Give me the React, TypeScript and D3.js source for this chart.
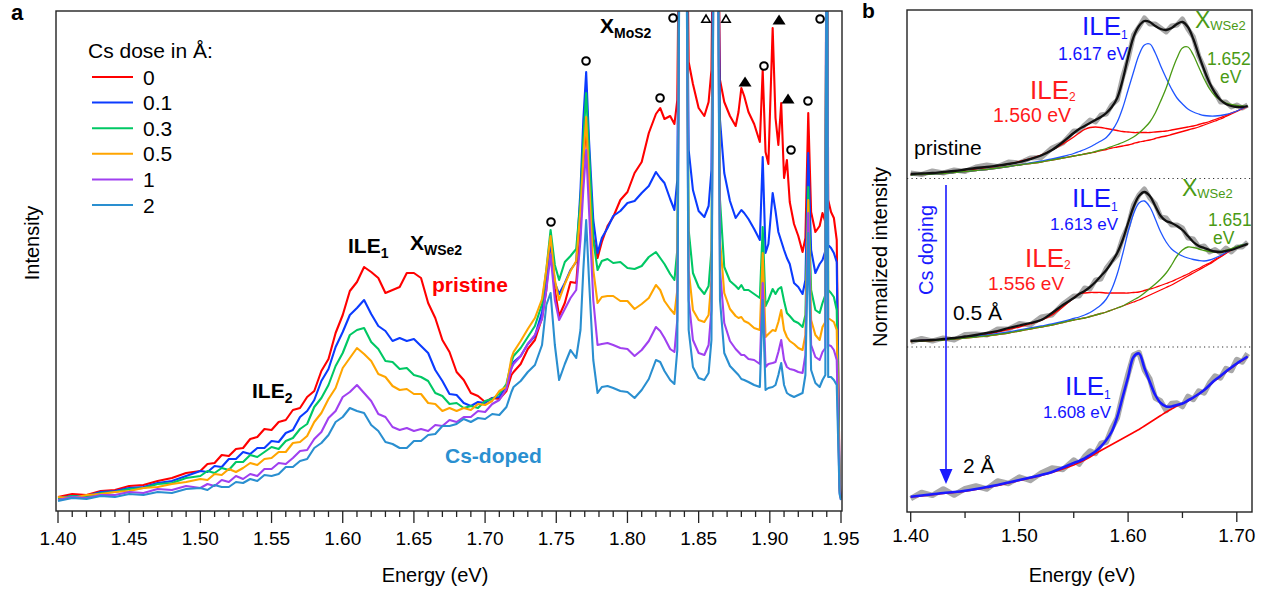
import React from "react";
import * as d3 from "d3";

// ---------------- Panel a data ----------------
const energyA = [
  1.40, 1.41, 1.42, 1.43, 1.44, 1.45, 1.46, 1.47, 1.48, 1.49,
  1.500, 1.505, 1.510, 1.515, 1.520, 1.525, 1.530, 1.535, 1.540, 1.545, 1.550, 1.555, 1.560, 1.565, 1.570,
  1.575, 1.580, 1.585, 1.590, 1.595, 1.600, 1.605, 1.610, 1.615, 1.620, 1.625, 1.630, 1.635, 1.640, 1.645,
  1.650, 1.655, 1.660, 1.665, 1.670, 1.675, 1.680, 1.685, 1.690, 1.695, 1.700, 1.705, 1.710, 1.715,
  1.7185, 1.720, 1.725, 1.730, 1.735, 1.740, 1.743, 1.746, 1.749, 1.752, 1.756, 1.760, 1.764, 1.767, 1.769,
  1.771, 1.773, 1.776, 1.779, 1.782, 1.786, 1.790, 1.795, 1.800, 1.805, 1.810, 1.815, 1.820, 1.823, 1.826,
  1.830, 1.833, 1.835, 1.837, 1.839, 1.841, 1.843, 1.846, 1.850, 1.854, 1.857, 1.859, 1.861, 1.863, 1.865,
  1.868, 1.872, 1.876, 1.878, 1.880, 1.882, 1.885, 1.889, 1.893, 1.895, 1.897, 1.899, 1.902, 1.904, 1.906,
  1.908, 1.910, 1.912, 1.914, 1.917, 1.920, 1.923, 1.925, 1.927, 1.929, 1.932, 1.935, 1.937, 1.939, 1.940,
  1.941, 1.943, 1.945, 1.947, 1.949, 1.950,
];

const doseLabels = ["0", "0.1", "0.3", "0.5", "1", "2"];
const doseColors = ["#ff0000", "#0b3bff", "#00c864", "#ffa500", "#a040f0", "#2a8fd0"];

const dose0 = [
  14, 17, 16, 20, 21, 25, 26, 30, 33, 38,
  40, 47, 48, 56, 55, 62, 63, 72, 74, 82, 81, 89, 91, 101, 103, 114, 120, 140, 152, 178, 196, 220, 229, 244, 239, 233, 218, 221, 224, 238, 238, 233, 208, 193, 171, 159, 139, 131, 118, 115, 109, 113, 112, 120,
  136, 139, 147, 162, 171, 193, 221, 273, 221, 195, 208, 229, 228, 281, 346, 386, 336, 273, 253, 269, 285, 294, 311, 319, 338, 349, 378, 397, 403, 392, 395, 387, 411, 700, 700, 700, 449, 427, 403, 395, 409, 441, 700, 700, 431, 409, 395, 385, 399, 423, 415, 399, 387, 369, 441, 359, 347, 483, 393, 366, 408, 333, 351, 309, 287, 275, 259, 273, 398, 299, 279, 285, 298, 289, 700, 311, 299, 293, 271, 31, 14,
];
const dose01 = [
  13, 15, 15, 19, 20, 23, 24, 28, 30, 35,
  40, 39, 45, 44, 52, 52, 59, 57, 63, 63, 70, 69, 78, 81, 94, 100, 111, 130, 142, 164, 179, 196, 203, 211, 197, 185, 180, 170, 173, 170, 172, 165, 158, 141, 130, 117, 116, 108, 105, 109, 108, 113, 114, 125,
  143, 149, 155, 167, 175, 199, 231, 271, 228, 217, 228, 241, 249, 321, 391, 439, 371, 291, 258, 273, 283, 295, 300, 308, 310, 318, 325, 339, 333, 328, 312, 301, 331, 700, 700, 700, 361, 321, 300, 294, 305, 341, 700, 700, 391, 338, 310, 293, 297, 301, 298, 292, 282, 271, 354, 258, 267, 318, 300, 279, 270, 261, 253, 247, 228, 224, 217, 231, 358, 261, 238, 247, 251, 260, 700, 266, 263, 258, 249, 26, 13,
];
const dose03 = [
  12, 15, 14, 18, 19, 22, 23, 27, 28, 33,
  35, 40, 38, 43, 41, 49, 49, 56, 54, 59, 64, 62, 70, 73, 82, 87, 104, 113, 126, 145, 158, 176, 181, 183, 169, 162, 150, 149, 142, 143, 136, 134, 130, 118, 115, 107, 108, 103, 105, 103, 110, 112, 117, 127,
  149, 155, 163, 174, 185, 207, 241, 281, 246, 231, 249, 255, 262, 311, 371, 418, 361, 271, 241, 250, 252, 248, 249, 243, 242, 245, 254, 259, 253, 247, 237, 231, 261, 700, 700, 700, 281, 238, 224, 217, 225, 261, 700, 700, 311, 244, 230, 225, 222, 226, 221, 221, 217, 213, 284, 205, 211, 222, 217, 222, 224, 210, 198, 195, 190, 188, 184, 196, 324, 221, 201, 198, 208, 216, 700, 221, 218, 214, 201, 23, 13,
];
const dose05 = [
  14, 13, 16, 17, 19, 20, 23, 24, 27, 29,
  32, 31, 37, 36, 42, 39, 43, 48, 46, 52, 53, 59, 59, 68, 69, 75, 89, 98, 112, 123, 143, 153, 163, 157, 150, 137, 134, 125, 121, 122, 117, 117, 108, 107, 100, 103, 100, 103, 101, 107, 106, 110, 120, 124,
  153, 159, 170, 182, 193, 212, 241, 275, 231, 211, 227, 240, 250, 301, 351, 394, 331, 241, 208, 214, 215, 215, 210, 210, 202, 207, 213, 226, 221, 210, 202, 197, 221, 700, 700, 700, 241, 201, 191, 189, 196, 231, 700, 700, 271, 218, 202, 195, 193, 194, 190, 188, 183, 181, 258, 174, 177, 181, 180, 189, 201, 181, 174, 170, 167, 163, 161, 176, 311, 191, 176, 171, 184, 189, 700, 193, 191, 189, 181, 21, 12,
];
const dose1 = [
  11, 14, 13, 16, 16, 19, 18, 22, 21, 25,
  23, 27, 25, 31, 29, 35, 32, 37, 35, 42, 42, 48, 47, 53, 60, 61, 72, 79, 93, 100, 114, 119, 126, 118, 110, 97, 94, 84, 81, 83, 80, 82, 80, 86, 85, 91, 89, 94, 94, 100, 99, 107, 111, 122,
  143, 147, 155, 167, 176, 192, 221, 256, 211, 191, 202, 213, 221, 271, 321, 361, 301, 211, 166, 167, 168, 166, 163, 162, 155, 161, 170, 184, 180, 173, 162, 159, 191, 700, 700, 700, 211, 171, 158, 156, 166, 201, 700, 700, 241, 188, 170, 162, 159, 156, 156, 152, 151, 147, 228, 144, 147, 148, 149, 159, 171, 151, 144, 142, 141, 139, 138, 156, 298, 166, 154, 151, 159, 163, 700, 166, 165, 161, 151, 19, 11,
];
const dose2 = [
  10, 13, 12, 15, 14, 17, 16, 19, 18, 22,
  23, 21, 26, 24, 24, 29, 28, 32, 30, 36, 35, 37, 44, 44, 50, 52, 63, 68, 76, 89, 94, 103, 100, 98, 86, 80, 69, 67, 63, 63, 70, 70, 76, 77, 85, 85, 87, 92, 89, 93, 92, 97, 96, 104,
  119, 124, 130, 139, 146, 166, 206, 218, 166, 131, 147, 161, 153, 181, 241, 291, 231, 151, 118, 124, 125, 123, 120, 119, 113, 121, 132, 151, 149, 140, 131, 127, 161, 700, 700, 700, 181, 144, 133, 131, 138, 171, 700, 700, 211, 158, 145, 139, 136, 132, 131, 129, 126, 124, 211, 121, 123, 124, 126, 136, 148, 126, 118, 116, 114, 116, 118, 136, 278, 141, 128, 124, 131, 136, 700, 134, 134, 131, 126, 17, 11,
];
const seriesA = [dose0, dose01, dose03, dose05, dose1, dose2];

const xTicksMajorA = [1.40, 1.45, 1.50, 1.55, 1.60, 1.65, 1.70, 1.75, 1.80, 1.85, 1.90, 1.95];

// peak markers (energy, intensity, kind)
const markerEnergy = [1.7463, 1.7709, 1.8229, 1.8320, 1.8552, 1.8692, 1.8826, 1.8959, 1.9065, 1.9128, 1.9149, 1.9268, 1.9353];
const markerIntensity = [289, 450, 413, 493, 492, 492, 429, 445, 491, 412, 361, 410, 492];
const markerKind = ["circle", "circle", "circle", "circle", "openTri", "openTri", "tri", "circle", "tri", "tri", "circle", "circle", "circle"];

// ---------------- Panel b data ----------------
const energyB = [
  1.40, 1.41, 1.42, 1.43, 1.44, 1.45, 1.46, 1.47, 1.48, 1.49, 1.50, 1.51, 1.52, 1.53, 1.54, 1.55,
  1.555, 1.560, 1.565, 1.570, 1.575, 1.580, 1.585, 1.590, 1.595, 1.600, 1.605, 1.610, 1.615, 1.620, 1.625, 1.630,
  1.635, 1.640, 1.645, 1.650, 1.655, 1.660, 1.665, 1.670, 1.675, 1.680, 1.685, 1.690, 1.695, 1.700, 1.705, 1.710,
];
const xTicksMajorB = [1.40, 1.50, 1.60, 1.70];
const xTicksMinorB = [1.45, 1.55, 1.65];

// pristine
const pristineData = [5, 3.5, 7, 5, 8, 6.5, 11, 13, 11.5, 16, 15, 20, 20.5, 30, 35, 47, 47, 53, 58, 56, 63, 64, 73, 78, 101, 119, 143, 151, 160, 154, 154, 150, 146, 152, 153, 159, 149, 141, 122, 110, 93, 86, 76, 76, 71, 73, 70, 73];
const pristineFit = [4, 4.5, 5, 6, 7, 8.5, 10, 11, 12.5, 14, 16, 19, 22.5, 28, 36, 45, 49, 52, 55, 58, 61, 65, 71, 80, 98, 121, 141, 152, 157, 156, 152, 149, 148, 150, 154, 156, 151, 139, 123, 108, 95, 85, 78, 74, 72, 71, 71, 72];
const pristineBackground = [3, 3.5, 4, 4.5, 5.5, 6.5, 7.5, 8.5, 10, 11.5, 13, 14.5, 16, 18, 20, 22, 23, 24, 25, 26, 27.5, 28.5, 30, 31, 32, 33, 34.5, 36, 37, 38, 39.5, 41, 42, 43.5, 45, 46.5, 48, 49.5, 51, 53, 55, 57, 59, 61.5, 64, 66.5, 69, 71.5];
const pristineILE2 = [3.5, 4, 4.5, 5.5, 6.5, 7.5, 9, 10.5, 12, 14, 16.5, 19.5, 23, 28, 34, 41, 45, 48.5, 50.5, 51, 50.5, 49.5, 48.5, 47.5, 46.5, 46, 45.5, 45.5, 45.5, 45.5, 46, 46.5, 47, 48, 49, 50, 51, 52, 53.5, 55, 56.5, 58.5, 60.5, 62.5, 65, 67, 69.5, 71.5];
const pristineILE1 = [3, 3.5, 4, 4.5, 5.5, 6.5, 7.5, 8.5, 10, 11.5, 13, 15, 17, 19, 21.5, 24.5, 26.5, 28.5, 31, 34, 37, 40.5, 47, 56, 70, 88, 106, 123, 133, 134, 125, 112, 100, 89, 80, 74, 69, 66, 64, 62.5, 62, 62, 62.5, 63.5, 65, 67, 69.5, 71.5];
const pristineXWSe2 = [3, 3.5, 4, 4.5, 5.5, 6.5, 7.5, 8.5, 10, 11.5, 13, 14.5, 16, 18, 20, 22, 23, 24, 25, 26.5, 28, 29.5, 31.5, 33.5, 35.5, 38, 41, 45, 50, 56, 65, 77, 90, 106, 120, 130, 131, 123, 111, 99, 89, 82, 78, 75, 73.5, 72.5, 72, 71.5];

// 0.5 A
const halfData = [5, 8.5, 6, 9, 7, 12.5, 13, 12, 18, 18, 23.5, 22, 30, 32, 43, 51, 51, 59, 58, 67, 68, 79, 86, 92, 109, 121, 142, 152, 158, 149, 143, 130, 129, 122, 122, 119, 109, 108, 100, 101, 95, 97.5, 94, 99, 95, 100, 100, 105];
const halfFit = [6, 6.5, 7, 8, 9, 10.5, 12, 14, 16, 19, 21.5, 24, 27, 34, 42, 49, 53, 56, 60, 65, 71, 77, 85, 94, 107, 124, 140, 151, 155, 151, 141, 131, 126, 124, 121, 117, 111, 105, 101, 99, 97, 95.5, 95, 96, 97, 99, 101, 103];
const halfBackground = [5.5, 6, 6.5, 7, 8, 9, 10, 11, 12.5, 14, 16, 18, 20, 22, 24.5, 27, 28, 29, 30.5, 32, 33.5, 35, 37, 39, 41, 43, 45, 47, 49.5, 52, 54.5, 57, 59.5, 62, 65, 68, 71, 74, 77, 80, 83, 86.5, 90, 93.5, 97, 100, 101.5, 103];
const halfILE2 = [6, 6.5, 7, 7.5, 8.5, 10, 11.5, 13, 15, 17.5, 20, 23, 26.5, 32, 40, 49, 53, 54, 54.5, 54.5, 54.5, 54, 54, 54, 54, 54, 54.5, 55, 56.5, 58, 59.5, 61.5, 63.5, 65.5, 68, 70.5, 73, 76, 78.5, 81.5, 84, 87.5, 90.5, 94, 97.5, 100, 101.5, 103];
const halfILE1 = [6, 6.5, 7, 7.5, 8.5, 9.5, 10.5, 12, 13.5, 15, 17, 19, 21, 23, 25.5, 28.5, 30, 32, 34.5, 38, 42, 48, 58, 73, 93, 115, 133, 144, 146, 140, 128, 115, 105, 98, 94, 91, 89, 87.5, 86.5, 86, 87, 89, 91.5, 94.5, 97.5, 100.5, 102, 103];
const halfXWSe2 = [5.5, 6, 6.5, 7, 8, 9, 10, 11, 12.5, 14, 16, 18, 20, 22, 24.5, 27, 28, 29, 30.5, 32, 33.5, 35, 37, 39, 41, 44, 47, 50, 54, 58.5, 63, 68, 74, 82, 91, 97, 100, 99.5, 98, 96.5, 95.5, 95, 95.5, 96.5, 98.5, 100.5, 102, 103];

// 2 A
const twoData = [13.3, 19.5, 16.7, 23, 17, 23.3, 26, 23, 31, 28.5, 35, 31.5, 39, 44, 42.5, 52, 48, 55.5, 61, 58.5, 68.5, 70, 83.5, 94, 117, 138, 157, 159.5, 142, 133, 114, 111, 101.5, 108.5, 109, 105.5, 115.5, 112.5, 121, 119, 129, 136, 134, 143.5, 141.5, 152.5, 150, 158.5];
const twoFit = [15.3, 16.5, 17.7, 19, 20, 21.3, 23, 25, 27, 29.5, 32, 34.5, 37, 40, 44.5, 49, 51, 53.5, 57, 60.5, 65.5, 72, 80.5, 95, 115, 135, 155, 158.5, 144, 130, 117, 109, 105.5, 105.5, 107, 108.5, 111.5, 114.5, 118, 122, 127, 132, 136, 140.5, 144.5, 148.5, 152, 155.5];
const twoBackground = [15, 16, 17.2, 18.5, 19.5, 20.8, 22.5, 24.5, 26.5, 29, 31.5, 34, 36.5, 39.5, 43, 47, 49.5, 52, 55, 58.5, 61.5, 64.5, 67.5, 70.5, 73.5, 76.5, 79.5, 82.5, 86, 89.5, 93, 96.5, 100, 103, 106, 108.5, 111, 114.2, 118, 122, 126.5, 131.5, 135.5, 140, 144, 148, 151.5, 155];

const FONT = "'Liberation Sans', Arial, Helvetica, sans-serif";
const GREEN_B = "#4a9a14";
const BLUE_B = "#1f55ff";
const BLUE_T = "#1414ff";
const RED_T = "#ff1a1a";

export default function App() {
  // Panel a scales
  const xA = d3.scaleLinear().domain([1.4, 1.95]).range([58, 841]);
  const yA = d3.scaleLinear().domain([0, 500]).range([511, 11]);
  const lineA = (vals: number[]) => {
    const n = Math.min(vals.length, energyA.length);
    const pts: [number, number][] = [];
    for (let i = 0; i < n; i++) pts.push([xA(energyA[i]), yA(vals[i])]);
    return d3.line()(pts) || "";
  };
  const minorA = d3.range(0, 56).map((i) => 1.4 + i * 0.01);

  // Panel b scales
  const xB = d3.scaleLinear().domain([1.4, 1.7]).range([910.7, 1236.8]);
  const subs = [
    d3.scaleLinear().domain([0, 168]).range([178, 10]),
    d3.scaleLinear().domain([0, 168.5]).range([347, 178.5]),
    d3.scaleLinear().domain([0, 165]).range([512, 347]),
  ];
  const lineB = (vals: number[], ys: any, smooth: boolean) => {
    const n = Math.min(vals.length, energyB.length);
    const pts: [number, number][] = [];
    for (let i = 0; i < n; i++) pts.push([xB(energyB[i]), ys(vals[i])]);
    const gen = d3.line().curve(smooth ? d3.curveCatmullRom.alpha(0.5) : d3.curveLinear);
    return gen(pts) || "";
  };

  const legendY = (i: number) => 77 + i * 25.6;

  const markerEls = markerEnergy.map((e, i) => {
    const cx = xA(e);
    const cy = yA(markerIntensity[i]);
    const k = markerKind[i];
    if (k === "circle")
      return <circle key={i} cx={cx} cy={cy} r={3.8} fill="#fff" stroke="#000" strokeWidth={2} />;
    if (k === "tri")
      return (
        <path key={i} d={`M${cx},${cy - 5.5} L${cx - 6.5},${cy + 4.5} L${cx + 6.5},${cy + 4.5} Z`} fill="#000" />
      );
    return (
      <path
        key={i}
        d={`M${cx},${cy - 4} L${cx - 4.3},${cy + 3.3} L${cx + 4.3},${cy + 3.3} Z`}
        fill="#fff"
        stroke="#000"
        strokeWidth={1.5}
      />
    );
  });

  return (
    <svg
      width={1272}
      height={592}
      style={{ position: "absolute", left: 0, top: 0, background: "#fff" }}
      fontFamily={FONT}
    >
      <defs>
        <clipPath id="clipA">
          <rect x={56.5} y={11.5} width={785} height={499} />
        </clipPath>
        <clipPath id="clipB">
          <rect x={907.5} y={10.5} width={344} height={501} />
        </clipPath>
      </defs>

      {/* ================= Panel a ================= */}
      <text x={11} y={20} fontSize={22} fontWeight="bold">a</text>

      <g clipPath="url(#clipA)">
        {seriesA.map((s, i) => (
          <path key={i} d={lineA(s)} fill="none" stroke={doseColors[i]} strokeWidth={2.1} strokeLinejoin="round" />
        ))}
      </g>
      {markerEls}

      <rect x={56} y={11} width={786} height={500} fill="none" stroke="#222" strokeWidth={1.4} />
      {minorA.map((t, i) => {
        const major = i % 5 === 0;
        return (
          <line key={i} x1={xA(t)} x2={xA(t)} y1={511} y2={major ? 523 : 517} stroke="#222" strokeWidth={1.3} />
        );
      })}
      {xTicksMajorA.map((t) => (
        <text key={t} x={xA(t)} y={545} fontSize={19} textAnchor="middle">
          {t.toFixed(2)}
        </text>
      ))}
      <text x={435} y={582} fontSize={20} textAnchor="middle">Energy (eV)</text>
      <text transform="translate(39,243) rotate(-90)" fontSize={20} textAnchor="middle">Intensity</text>

      {/* legend */}
      <text x={88} y={58} fontSize={21}>Cs dose in Å:</text>
      {doseLabels.map((l, i) => (
        <g key={l}>
          <line x1={92} x2={133} y1={legendY(i)} y2={legendY(i)} stroke={doseColors[i]} strokeWidth={2} />
          <text x={143} y={legendY(i) + 7.5} fontSize={21}>{l}</text>
        </g>
      ))}

      {/* annotations a */}
      <text x={348} y={253} fontSize={21} fontWeight="bold">
        ILE<tspan fontSize={14} dy={5}>1</tspan>
      </text>
      <text x={410} y={250} fontSize={21} fontWeight="bold">
        X<tspan fontSize={14} dy={5}>WSe2</tspan>
      </text>
      <text x={432} y={292} fontSize={21} fontWeight="bold" fill="#ff0000">pristine</text>
      <text x={252} y={398} fontSize={21} fontWeight="bold">
        ILE<tspan fontSize={14} dy={5}>2</tspan>
      </text>
      <text x={445} y={463} fontSize={21} fontWeight="bold" fill="#2a8fd0">Cs-doped</text>
      <text x={600} y={33} fontSize={21} fontWeight="bold">
        X<tspan fontSize={14} dy={5}>MoS2</tspan>
      </text>

      {/* ================= Panel b ================= */}
      <text x={862} y={18} fontSize={21} fontWeight="bold">b</text>

      <g clipPath="url(#clipB)">
        {/* pristine */}
        <path d={lineB(pristineData, subs[0], false)} fill="none" stroke="#a8a8a8" strokeWidth={5} strokeLinejoin="round" />
        <path d={lineB(pristineBackground, subs[0], true)} fill="none" stroke="#ff0000" strokeWidth={1.3} />
        <path d={lineB(pristineILE2, subs[0], true)} fill="none" stroke="#ff0000" strokeWidth={1.3} />
        <path d={lineB(pristineILE1, subs[0], true)} fill="none" stroke={BLUE_B} strokeWidth={1.3} />
        <path d={lineB(pristineXWSe2, subs[0], true)} fill="none" stroke={GREEN_B} strokeWidth={1.3} />
        <path d={lineB(pristineFit, subs[0], true)} fill="none" stroke="#111" strokeWidth={2.3} />

        {/* 0.5 A */}
        <path d={lineB(halfData, subs[1], false)} fill="none" stroke="#a8a8a8" strokeWidth={5} strokeLinejoin="round" />
        <path d={lineB(halfBackground, subs[1], true)} fill="none" stroke="#ff0000" strokeWidth={1.3} />
        <path d={lineB(halfILE2, subs[1], true)} fill="none" stroke="#ff0000" strokeWidth={1.3} />
        <path d={lineB(halfILE1, subs[1], true)} fill="none" stroke={BLUE_B} strokeWidth={1.3} />
        <path d={lineB(halfXWSe2, subs[1], true)} fill="none" stroke={GREEN_B} strokeWidth={1.3} />
        <path d={lineB(halfFit, subs[1], true)} fill="none" stroke="#111" strokeWidth={2.3} />

        {/* 2 A */}
        <path d={lineB(twoData, subs[2], false)} fill="none" stroke="#a8a8a8" strokeWidth={5.5} strokeLinejoin="round" />
        <path d={lineB(twoBackground, subs[2], true)} fill="none" stroke="#ff0000" strokeWidth={1.6} />
        <path d={lineB(twoFit, subs[2], true)} fill="none" stroke="#1a1aff" strokeWidth={2.6} />
      </g>

      {/* dotted separators */}
      <line x1={907} x2={1252} y1={178.5} y2={178.5} stroke="#333" strokeWidth={1.2} strokeDasharray="1.2 3.3" />
      <line x1={907} x2={1252} y1={347} y2={347} stroke="#333" strokeWidth={1.2} strokeDasharray="1.2 3.3" />

      <rect x={907} y={10} width={345} height={502} fill="none" stroke="#222" strokeWidth={1.4} />
      {xTicksMajorB.map((t) => (
        <g key={t}>
          <line x1={xB(t)} x2={xB(t)} y1={512} y2={522} stroke="#222" strokeWidth={1.3} />
          <text x={xB(t)} y={542} fontSize={19} textAnchor="middle">{t.toFixed(2)}</text>
        </g>
      ))}
      {xTicksMinorB.map((t) => (
        <line key={t} x1={xB(t)} x2={xB(t)} y1={512} y2={518} stroke="#222" strokeWidth={1.3} />
      ))}
      <text x={1082} y={582} fontSize={20} textAnchor="middle">Energy (eV)</text>
      <text transform="translate(887,257) rotate(-90)" fontSize={20} textAnchor="middle">Normalized intensity</text>

      {/* annotations b: pristine */}
      <text x={914} y={155} fontSize={21}>pristine</text>
      <text x={1030} y={99} fontSize={26} fill={RED_T}>
        ILE<tspan fontSize={12} dy={2}>2</tspan>
      </text>
      <text x={993} y={122} fontSize={19.5} fill={RED_T}>1.560 eV</text>
      <text x={1082} y={35} fontSize={26} fill={BLUE_T}>
        ILE<tspan fontSize={12} dy={4}>1</tspan>
      </text>
      <text x={1058} y={60} fontSize={17.5} fill={BLUE_T}>1.617 eV</text>
      <text x={1195} y={28} fontSize={23} fill={GREEN_B}>
        X<tspan fontSize={13} dy={2}>WSe2</tspan>
      </text>
      <text x={1207} y={65} fontSize={17.5} fill={GREEN_B}>1.652</text>
      <text x={1220} y={83} fontSize={17.5} fill={GREEN_B}>eV</text>

      {/* annotations b: 0.5 A */}
      <text x={953} y={320} fontSize={21}>0.5 Å</text>
      <text x={1025} y={267} fontSize={26} fill={RED_T}>
        ILE<tspan fontSize={12} dy={2}>2</tspan>
      </text>
      <text x={988} y={290} fontSize={19} fill={RED_T}>1.556 eV</text>
      <text x={1072} y={207} fontSize={26} fill={BLUE_T}>
        ILE<tspan fontSize={12} dy={4}>1</tspan>
      </text>
      <text x={1050} y={230} fontSize={17} fill={BLUE_T}>1.613 eV</text>
      <text x={1182} y={196} fontSize={23} fill={GREEN_B}>
        X<tspan fontSize={13} dy={2}>WSe2</tspan>
      </text>
      <text x={1208} y={226} fontSize={17.5} fill={GREEN_B}>1.651</text>
      <text x={1213} y={244} fontSize={17.5} fill={GREEN_B}>eV</text>

      {/* Cs doping arrow */}
      <line x1={946} x2={946} y1={185} y2={472} stroke="#1a1aff" strokeWidth={1.6} />
      <path d="M939.5,469 L952.5,469 L946,484 Z" fill="#1a1aff" />
      <text transform="translate(933,250) rotate(-90)" fontSize={20} textAnchor="middle" fill="#1a1aff">Cs doping</text>

      {/* annotations b: 2 A */}
      <text x={963} y={473} fontSize={21}>2 Å</text>
      <text x={1065} y={395} fontSize={26} fill={BLUE_T}>
        ILE<tspan fontSize={12} dy={4}>1</tspan>
      </text>
      <text x={1043} y={418} fontSize={17} fill={BLUE_T}>1.608 eV</text>
    </svg>
  );
}
